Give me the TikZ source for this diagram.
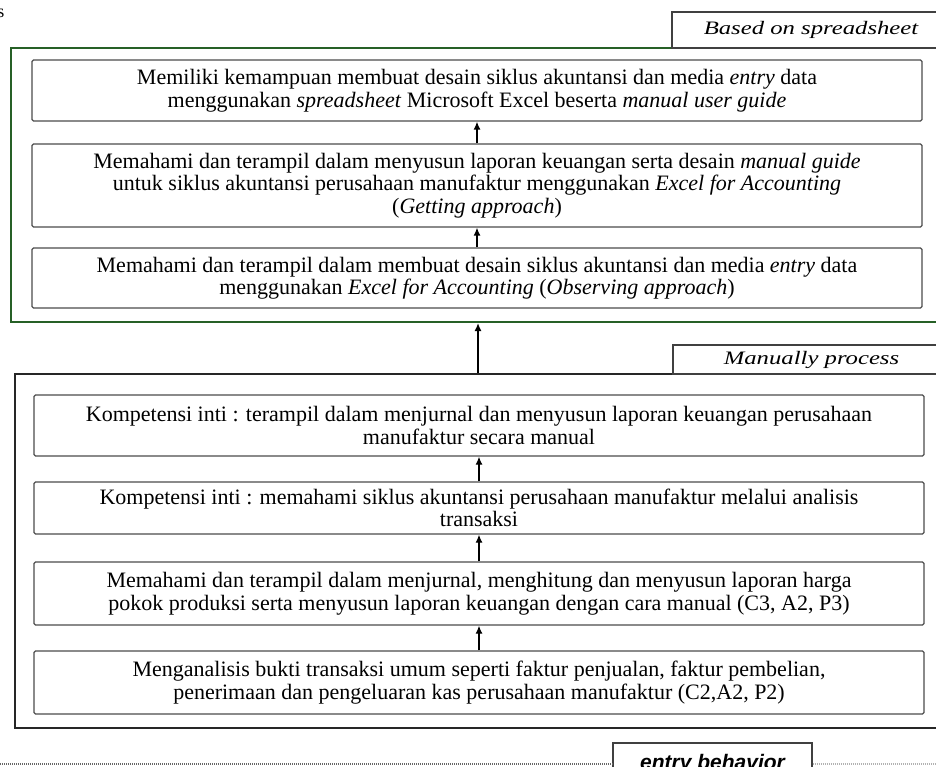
\documentclass[tikz,border=0pt]{standalone}
\usepackage{fontspec}
\setmainfont{Liberation Serif}
\newfontfamily\tagfont{Liberation Sans}
\usetikzlibrary{arrows.meta}

\definecolor{framegreen}{RGB}{38,96,38}

\begin{document}
\begin{tikzpicture}[x=1pt,y=-1pt,
  stage/.style={draw=black!70, line width=1.3pt, rounded corners=1.5pt,
    minimum width=890pt, inner sep=0pt, align=center,
    font=\fontsize{22}{22.5}\selectfont},
  frame/.style={draw, line width=2.2pt, inner sep=0pt},
  tag/.style={draw=black!75, line width=1.3pt, inner sep=0pt,
    font=\fontsize{19}{20}\selectfont\itshape},
  up/.style={-{Latex[length=8pt,width=7pt]}, line width=1.3pt}]

\useasboundingbox (0,0) rectangle (936,767);
\clip (0,0) rectangle (936,767);

\node [font=\fontsize{18}{18}\selectfont] (cut) at (1,13) {s};

%% Based on spreadsheet
\node [frame, draw=framegreen, minimum width=934pt, minimum height=274pt] (sheet) at (478,185) {};
\node [tag, minimum width=278pt, minimum height=36pt] (sheettag) at (811,30) {\scalebox{1.3}[1]{Based on spreadsheet}};

\node [stage, minimum height=61pt] (goal) at (477,90.5)
  {Memiliki kemampuan membuat desain siklus akuntansi dan media \textit{entry} data\\
   menggunakan \textit{spreadsheet} Microsoft Excel beserta \textit{manual user guide}};
\node [stage, minimum height=83pt] (getting) at (477,185.5)
  {Memahami dan terampil dalam menyusun laporan keuangan serta desain \textit{manual guide}\\
   untuk siklus akuntansi perusahaan manufaktur menggunakan \textit{Excel for Accounting}\\
   (\textit{Getting approach})};
\node [stage, minimum height=60pt] (observing) at (477,278)
  {Memahami dan terampil dalam membuat desain siklus akuntansi dan media \textit{entry} data\\
   menggunakan \textit{Excel for Accounting} (\textit{Observing approach})};

\draw [up] (getting) -- (goal);
\draw [up] (observing) -- (getting);

%% Manually process
\node [frame, draw=black!85, line width=2.6pt, minimum width=926pt, minimum height=354pt] (manual) at (478,551) {};
\node [tag, minimum width=277pt, minimum height=29pt] (manualtag) at (811.5,359.5) {\scalebox{1.3}[1]{Manually process}};

\node [stage, minimum height=61pt] (jurnal) at (479,425.5)
  {Kompetensi inti : terampil dalam menjurnal dan menyusun laporan keuangan perusahaan\\
   manufaktur secara manual};
\node [stage, minimum height=52pt] (siklus) at (479,508)
  {Kompetensi inti : memahami siklus akuntansi perusahaan manufaktur melalui analisis\\
   transaksi};
\node [stage, minimum height=63pt] (hpp) at (479,593.5)
  {Memahami dan terampil dalam menjurnal, menghitung dan menyusun laporan harga\\
   pokok produksi serta menyusun laporan keuangan dengan cara manual (C3, A2, P3)};
\node [stage, minimum height=63pt] (bukti) at (479,682.5)
  {Menganalisis bukti transaksi umum seperti faktur penjualan, faktur pembelian,\\
   penerimaan dan pengeluaran kas perusahaan manufaktur (C2,A2, P2)};

\draw [up] (siklus) -- (jurnal);
\draw [up] (hpp) -- (siklus);
\draw [up] (bukti) -- (hpp);
\draw [up] (manual) -- (sheet);

%% Entry behavior
\node [draw=black!75, line width=1.3pt, minimum width=199pt, minimum height=42pt, inner sep=0pt,
  font=\tagfont\bfseries\itshape\fontsize{21}{22}\selectfont] (entry) at (712.5,764) {entry behavior};
\coordinate (lineleft) at (0,764);
\coordinate (lineright) at (936,764);
\draw [black!60, line width=1.2pt, dash pattern=on 1pt off 1pt] (lineleft) -- (entry.west |- lineleft);
\draw [black!30, line width=1.2pt, dash pattern=on 1pt off 1pt] (entry.east |- lineright) -- (lineright);

\end{tikzpicture}
\end{document}
